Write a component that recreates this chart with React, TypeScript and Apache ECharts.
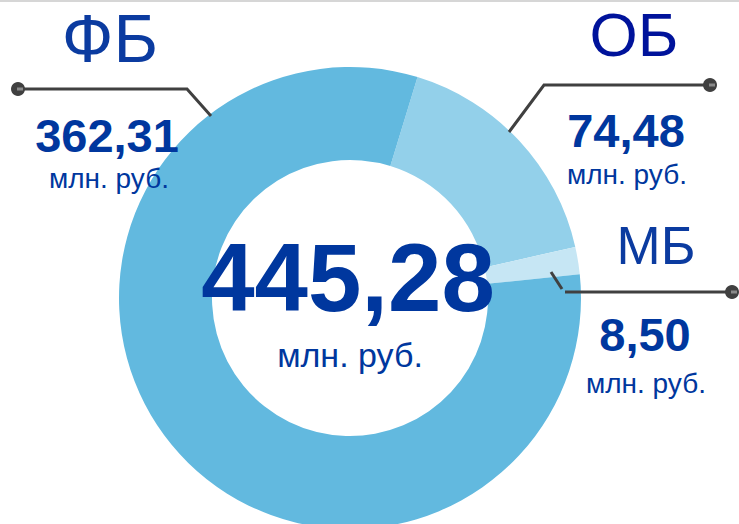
import React, { useEffect, useRef } from "react";
import * as echarts from "echarts";

// ---- data ----
const categories: string[] = ["ОБ", "МБ", "ФБ"];
const values: number[] = [74.48, 8.5, 362.31];
const totalLabel = 445.28;
const unitLabel = "млн. руб.";

const sliceColors = ["#93d0ea", "#c6e6f4", "#62b9df"];
const numColor = "#00379e";
const lineColor = "#404040";
const FONT = "'Liberation Sans', Arial, sans-serif";

const fmt = (v: number) => v.toFixed(2).replace(".", ",");

function txt(text: string, x: number, y: number, size: number, bold: boolean, fill: string) {
  return {
    type: "text",
    x,
    y,
    z: 100,
    silent: true,
    style: {
      text,
      fill,
      font: `${bold ? "bold " : ""}${size}px ${FONT}`,
      textAlign: "center",
      textVerticalAlign: "middle",
      align: "center",
      verticalAlign: "middle",
    },
  };
}

function dot(x: number, y: number) {
  return [
    { type: "circle", z: 100, shape: { cx: x, cy: y, r: 7 }, style: { fill: lineColor }, silent: true },
    { type: "rect", z: 101, shape: { x: x - 1, y: y - 1.5, width: 6, height: 3 }, style: { fill: "#8a8a8a" }, silent: true },
  ];
}

function line(points: number[][]) {
  return {
    type: "polyline",
    z: 100,
    shape: { points },
    style: { stroke: lineColor, lineWidth: 3, fill: null },
    silent: true,
  };
}

export default function App() {
  const ref = useRef<HTMLDivElement>(null);
  useEffect(() => {
    if (!ref.current) return;
    const chart = echarts.init(ref.current, null, { renderer: "svg" });
    const [ob, mb, fb] = values;
    chart.setOption({
      animation: false,
      backgroundColor: "#ffffff",
      series: [
        {
          type: "pie",
          center: [350, 298],
          radius: [138, 231],
          startAngle: 73,
          clockwise: true,
          silent: true,
          z: 1,
          label: { show: false },
          labelLine: { show: false },
          emphasis: { disabled: true },
          itemStyle: { borderWidth: 0 },
          data: categories.map((name, i) => ({
            name,
            value: values[i],
            itemStyle: { color: sliceColors[i] },
          })),
        },
      ],
      graphic: [
        { type: "rect", z: 100, shape: { x: 0, y: 0, width: 739, height: 2 }, style: { fill: "#d6d6d6" }, silent: true },
        // leader lines
        line([[18, 89], [187, 89], [211, 116]]),
        ...dot(18, 89),
        line([[710, 85], [544, 85], [509, 132]]),
        ...dot(710, 85),
        line([[551, 272], [562, 289]]),
        line([[565, 292], [732, 292]]),
        ...dot(732, 292),
        // category names
        txt(categories[2], 110, 38, 68, false, "#0b3ba0"),
        txt(categories[0], 634, 34, 62, false, "#00139b"),
        txt(categories[1], 656, 245, 53, false, "#0b3ba0"),
        // values
        txt(fmt(fb), 107, 135, 47, true, numColor),
        txt(unitLabel, 109, 178, 28, false, numColor),
        txt(fmt(ob), 626, 130, 47, true, numColor),
        txt(unitLabel, 627, 174, 28, false, numColor),
        txt(fmt(mb), 645, 334, 47, true, numColor),
        txt(unitLabel, 646, 383, 28, false, numColor),
        // total
        txt(fmt(totalLabel), 348, 277, 96, true, numColor),
        txt(unitLabel, 350, 355, 34, false, numColor),
      ],
    });
    return () => chart.dispose();
  }, []);
  return (
    <div
      ref={ref}
      style={{ position: "absolute", left: 0, top: 0, width: 739, height: 524 }}
    />
  );
}
